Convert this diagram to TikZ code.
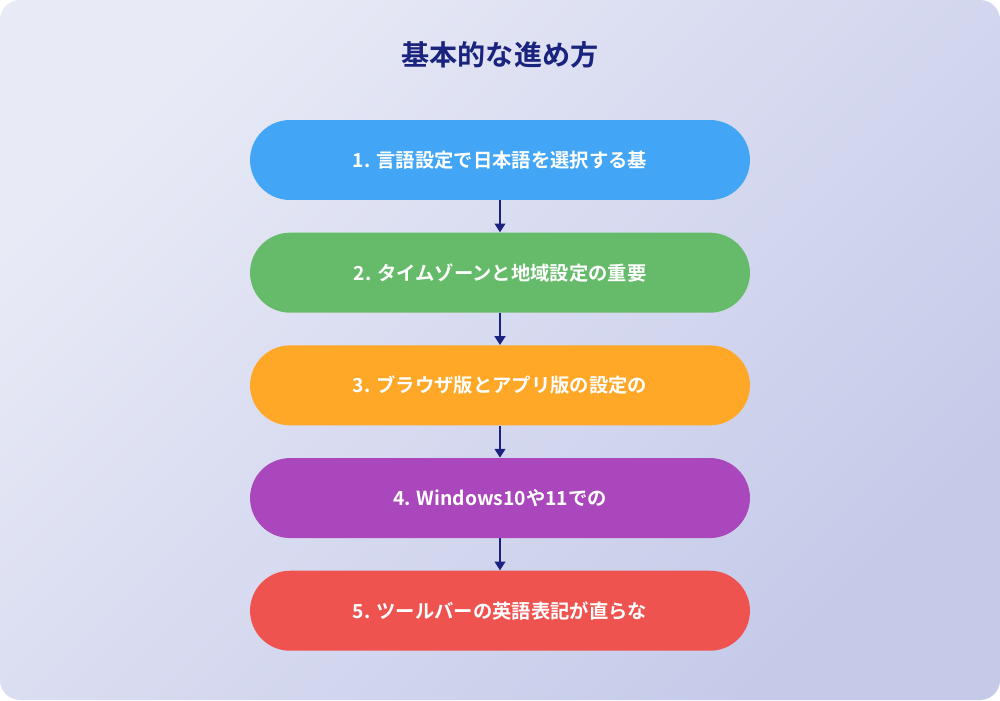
\documentclass[tikz,border=0pt]{standalone}
\usepackage{fontspec}
\setmainfont{Noto Sans CJK JP}[BoldFont={Noto Sans CJK JP Bold}]
\usetikzlibrary{positioning,arrows.meta}
\definecolor{bgtop}{HTML}{E8EAF6}
\definecolor{bgbot}{HTML}{C5CAE9}
\definecolor{navy}{HTML}{1A237E}
\definecolor{cblue}{HTML}{42A5F5}
\definecolor{cgreen}{HTML}{66BB6A}
\definecolor{corange}{HTML}{FFA726}
\definecolor{cpurple}{HTML}{AB47BC}
\definecolor{cred}{HTML}{EF5350}
\begin{document}
\begin{tikzpicture}[x=0.02cm, y=-0.02cm,
  stepbox/.style={rounded corners=0.8cm, minimum width=10cm, minimum height=1.6cm,
    text=white, font=\bfseries\fontsize{11}{13}\selectfont},
  flowarrow/.style={navy, line width=1.2pt, -{Triangle[length=5pt,width=6pt]}}]
\def\boxgap{0.64cm}
\useasboundingbox (0,0) rectangle (1000,700);
\shade[rounded corners=0.4cm, top color=bgtop, bottom color=bgbot, shading angle=45] (0,0) rectangle (1000,700);

\node [font=\bfseries\fontsize{16}{19}\selectfont, text=navy] (title) at (500,55) {基本的な進め方};

\node [stepbox, fill=cblue] (s1) at (500,160) {1. 言語設定で日本語を選択する基};
\node [stepbox, fill=cgreen, below=\boxgap of s1] (s2) {2. タイムゾーンと地域設定の重要};
\node [stepbox, fill=corange, below=\boxgap of s2] (s3) {3. ブラウザ版とアプリ版の設定の};
\node [stepbox, fill=cpurple, below=\boxgap of s3] (s4) {4. Windows10や11での};
\node [stepbox, fill=cred, below=\boxgap of s4] (s5) {5. ツールバーの英語表記が直らな};

\foreach \a/\b in {s1/s2, s2/s3, s3/s4, s4/s5}
  \draw [flowarrow] (\a.south) -- (\b.north);
\end{tikzpicture}
\end{document}
